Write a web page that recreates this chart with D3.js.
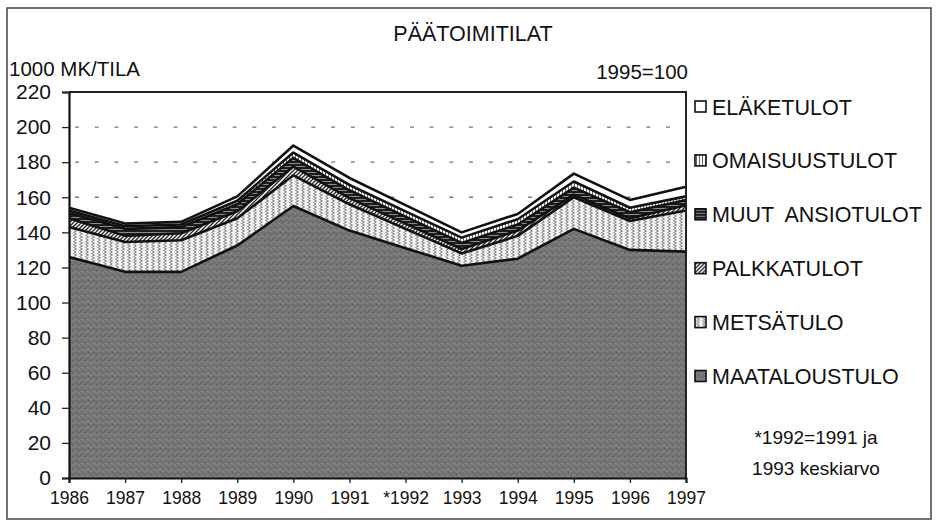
<!DOCTYPE html>
<html>
<head>
<meta charset="utf-8">
<script src="https://cdn.jsdelivr.net/npm/d3@7"></script>
<style>
  html, body { margin: 0; padding: 0; background: #fff; }
  svg { display: block; font-family: 'Liberation Sans', Arial, sans-serif; }
</style>
</head>
<body>
<div class="chart"></div>
<script>
'use strict';

// years on the x axis (1992 = average of 1991 and 1993)
const years = ['1986', '1987', '1988', '1989', '1990', '1991', '*1992', '1993', '1994', '1995', '1996', '1997'];

// income layers, 1000 mk per farm, bottom to top
const maataloustulo = [126, 117.5, 117.5, 132.5, 155, 141, 131, 121, 125, 142, 130, 129];
const metsatulo = [17, 17, 18, 15.5, 17.5, 15, 11, 7, 13, 18, 16.5, 23.5];
const palkkatulot = [5, 3.5, 4, 4, 5, 3.5, 3, 2.5, 3, 1.5, 1.5, 3];
const muutAnsiotulot = [3, 4, 3.5, 4, 5, 4.5, 4, 3.5, 3.5, 4, 3.5, 3];
const omaisuustulot = [1.5, 1.5, 1.5, 2, 3, 3, 3, 3, 3, 3.5, 2.5, 2];
const elaketulot = [1.5, 1.5, 1.5, 2.5, 4, 4, 3.5, 3, 3, 4.5, 4.5, 5.5];

const seriesNames = ['MAATALOUSTULO', 'METSÄTULO', 'PALKKATULOT', 'MUUT  ANSIOTULOT', 'OMAISUUSTULOT', 'ELÄKETULOT'];
const seriesValues = [maataloustulo, metsatulo, palkkatulot, muutAnsiotulot, omaisuustulot, elaketulot];
const yTicks = [0, 20, 40, 60, 80, 100, 120, 140, 160, 180, 200, 220];

const WIDTH = 937;
const HEIGHT = 524;
const plot = {left: 69, right: 686, top: 92, bottom: 478};

const svg = d3.select('.chart')
  .append('svg')
    .attr('width', WIDTH)
    .attr('height', HEIGHT);

// fill patterns, one per layer
const defs = svg.append('defs');

function pattern(id, w, h) {
  return defs.append('pattern')
    .attr('id', id)
    .attr('patternUnits', 'userSpaceOnUse')
    .attr('width', w)
    .attr('height', h);
}

let p = pattern('p0', 6, 6);
p.append('rect').attr('width', 6).attr('height', 6).attr('fill', '#767676');
[[0, 0, '#555'], [3, 1, '#939393'], [1, 3, '#8e8e8e'], [4, 4, '#585858'], [2, 5, '#646464'], [5, 2, '#888']]
  .forEach(([x, y, c]) => p.append('rect').attr('x', x).attr('y', y).attr('width', 1).attr('height', 1).attr('fill', c));

p = pattern('p1', 6, 6);
p.append('rect').attr('width', 6).attr('height', 6).attr('fill', '#f2f2f2');
p.append('path').attr('d', 'M4.5,0 L1.5,1.5 L4.5,3 L1.5,4.5 L4.5,6')
  .attr('fill', 'none').attr('stroke', '#8a8a8a').attr('stroke-width', 1);

p = pattern('p2', 4, 4);
p.append('rect').attr('width', 4).attr('height', 4).attr('fill', '#fff');
p.append('path').attr('d', 'M-1,1 L1,-1 M0,4 L4,0 M3,5 L5,3')
  .attr('stroke', '#222').attr('stroke-width', 1.3);

p = pattern('p3', 3, 3);
p.append('rect').attr('width', 3).attr('height', 3).attr('fill', '#1e1e1e');
p.append('rect').attr('y', 1).attr('width', 3).attr('height', 1).attr('fill', '#8a8a8a');

p = pattern('p4', 3, 3);
p.append('rect').attr('width', 3).attr('height', 3).attr('fill', '#fff');
p.append('rect').attr('x', 1).attr('width', 1).attr('height', 3).attr('fill', '#666');

p = pattern('p5', 4, 4);
p.append('rect').attr('width', 4).attr('height', 4).attr('fill', '#fff');

// outer frame
svg.append('rect')
  .attr('x', 7).attr('y', 8)
  .attr('width', 924).attr('height', 511)
  .attr('fill', 'none')
  .attr('stroke', '#444')
  .attr('stroke-width', 1.5);

const x = d3.scalePoint()
  .domain(years)
  .range([plot.left, plot.right]);

const y = d3.scaleLinear()
  .domain([0, 220])
  .range([plot.bottom, plot.top]);

// dashed grid lines
svg.append('g')
  .selectAll('line')
  .data(yTicks.filter((d) => d > 0 && d < 220))
  .enter().append('line')
    .attr('x1', plot.left + 6)
    .attr('x2', plot.right)
    .attr('y1', (d) => y(d))
    .attr('y2', (d) => y(d))
    .attr('stroke', '#777')
    .attr('stroke-width', 1.3)
    .attr('stroke-dasharray', '4,15.7');

const table = years.map((yr, i) => {
  const row = {year: yr};
  seriesNames.forEach((name, k) => { row[name] = seriesValues[k][i]; });
  return row;
});

const stacked = d3.stack().keys(seriesNames)(table);

const area = d3.area()
  .x((d) => x(d.data.year))
  .y0((d) => y(d[0]))
  .y1((d) => y(d[1]));

const topLine = d3.line()
  .x((d) => x(d.data.year))
  .y((d) => y(d[1]));

svg.append('g')
  .selectAll('path')
  .data(stacked)
  .enter().append('path')
    .attr('d', area)
    .attr('fill', (d, i) => `url(#p${i})`);

svg.append('g')
  .selectAll('path')
  .data(stacked)
  .enter().append('path')
    .attr('d', topLine)
    .attr('fill', 'none')
    .attr('stroke', '#111')
    .attr('stroke-width', 2.6)
    .attr('stroke-linejoin', 'round');

// plot border (top and right)
svg.append('path')
  .attr('d', `M${plot.left},${plot.top}H${plot.right}V${plot.bottom}`)
  .attr('fill', 'none')
  .attr('stroke', '#222')
  .attr('stroke-width', 2);

const yAxis = svg.append('g')
  .attr('transform', `translate(${plot.left},0)`)
  .call(d3.axisLeft(y).tickValues(yTicks).tickSize(7).tickPadding(11).tickFormat(d3.format('d')));

const xAxis = svg.append('g')
  .attr('transform', `translate(0,${plot.bottom})`)
  .call(d3.axisBottom(x).tickSize(5).tickPadding(9));

[yAxis, xAxis].forEach((g) => {
  g.select('.domain').attr('stroke', '#111').attr('stroke-width', 2.2);
  g.selectAll('.tick line').attr('stroke', '#222').attr('stroke-width', 1.3);
  g.selectAll('text').attr('fill', '#111').attr('font-family', "'Liberation Sans', Arial, sans-serif");
});
yAxis.selectAll('text').attr('font-size', 21);
xAxis.selectAll('text').attr('font-size', 17.5);

// titles
svg.append('text')
  .attr('x', 473).attr('y', 41)
  .attr('text-anchor', 'middle')
  .attr('font-size', 21.5)
  .attr('fill', '#111')
  .text('PÄÄTOIMITILAT');

svg.append('text')
  .attr('x', 9).attr('y', 76)
  .attr('font-size', 20.5)
  .attr('fill', '#111')
  .text('1000 MK/TILA');

svg.append('text')
  .attr('x', 688).attr('y', 79)
  .attr('text-anchor', 'end')
  .attr('font-size', 20.5)
  .attr('fill', '#111')
  .text('1995=100');

// legend, top entry first
const legend = svg.append('g')
  .selectAll('g')
  .data(seriesNames.map((n, i) => ({name: n, i: i})).reverse())
  .enter().append('g')
    .attr('transform', (d, j) => `translate(695,${107 + j * 53.9})`);

legend.append('rect')
  .attr('x', 0).attr('y', -6)
  .attr('width', 11).attr('height', 11)
  .attr('fill', (d) => `url(#p${d.i})`)
  .attr('stroke', '#111')
  .attr('stroke-width', 1.6);

legend.append('text')
  .attr('x', 17).attr('y', 7.5)
  .attr('font-size', 21.5)
  .attr('fill', '#111')
  .style('white-space', 'pre')
  .text((d) => d.name);

// note about 1992
svg.append('text')
  .attr('x', 816).attr('y', 444)
  .attr('text-anchor', 'middle')
  .attr('font-size', 19)
  .attr('fill', '#111')
  .text('*1992=1991 ja');

svg.append('text')
  .attr('x', 816).attr('y', 475)
  .attr('text-anchor', 'middle')
  .attr('font-size', 19)
  .attr('fill', '#111')
  .text('1993 keskiarvo');
</script>
</body>
</html>
